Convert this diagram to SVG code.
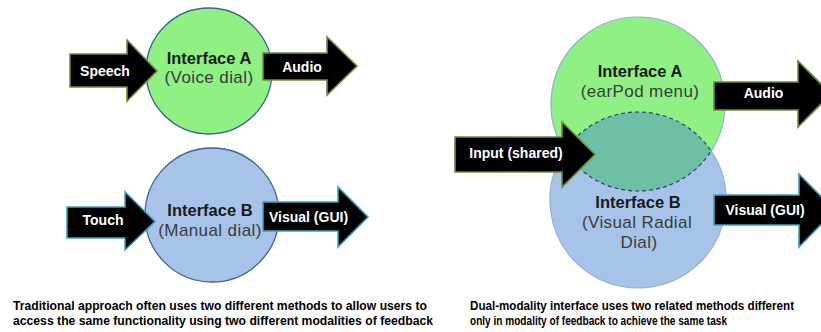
<svg xmlns="http://www.w3.org/2000/svg" width="821" height="332" viewBox="0 0 821 332">
<style>
.green{fill:#8FF183;}
.blue{fill:#A7C4E8;}
.edge{stroke:#3E6290;stroke-width:1.3;}
.arrow{fill:#000;stroke-width:1.6;stroke-linejoin:miter;}
.ag{stroke:#6F8C34;}
.ab{stroke:#3FA3BD;}
.al{font-family:"Liberation Sans",Arial,sans-serif;font-weight:bold;font-size:14px;fill:#fff;text-anchor:middle;}
.t1{font-family:"Liberation Sans",Arial,sans-serif;font-weight:bold;font-size:16.5px;fill:#1a1a1a;text-anchor:middle;}
.t2{font-family:"Liberation Sans",Arial,sans-serif;font-size:17px;letter-spacing:0.4px;fill:#3a3a3a;text-anchor:middle;}
.cap{font-family:"Liberation Sans",Arial,sans-serif;font-weight:bold;font-size:12px;fill:#000;}
</style>

<g id="node-left-a">
<circle class="green edge" cx="209" cy="71" r="63"/>
</g>
<g id="node-left-b">
<circle class="blue edge" cx="212" cy="215" r="67"/>
</g>

<g id="node-right-b">
<circle class="blue" cx="638" cy="200" r="88"/>
<path d="M564.85,151.09 A88,88 0 1 0 711.15,151.09" fill="none" stroke="#8EAFD8" stroke-width="1.2"/>
</g>
<g id="node-right-a">
<circle class="green" cx="638" cy="104" r="87"/>
<path d="M564.85,151.09 A87,87 0 1 1 711.15,151.09" fill="none" stroke="#8EAFD0" stroke-width="1.2"/>
</g>
<g id="node-overlap">
<path d="M564.85,151.09 A87,87 0 0 0 711.15,151.09 A88,88 0 0 0 564.85,151.09 Z" fill="#6DBFA6" stroke="#243F72" stroke-width="1.2" stroke-dasharray="4,3"/>
</g>

<g id="connectors">
<g id="arrow-speech">
<path class="arrow ag" d="M70,54 L127,54 L127,40 L157,71 L127,101 L127,87 L70,87 Z"/>
<text class="al" x="105" y="76">Speech</text>
</g>
<g id="arrow-audio-left">
<path class="arrow ag" d="M263,53 L327,53 L327,37 L357,66 L327,95 L327,80 L263,80 Z"/>
<text class="al" x="302" y="72">Audio</text>
</g>
<g id="arrow-touch">
<path class="arrow ab" d="M67,207 L125,207 L125,192 L155,221.5 L125,250 L125,238 L67,238 Z"/>
<text class="al" x="103" y="225">Touch</text>
</g>
<g id="arrow-visual-left">
<path class="arrow ab" d="M263,202 L338,202 L338,187 L368,217 L338,247 L338,231 L263,231 Z"/>
<text class="al" x="308.5" y="222">Visual (GUI)</text>
</g>
<g id="arrow-input">
<path class="arrow ag" d="M455,137 L562,137 L562,122 L595,154.5 L562,187 L562,172 L455,172 Z"/>
<text class="al" x="516" y="158">Input (shared)</text>
</g>
<g id="arrow-audio-right">
<path class="arrow ag" d="M714,82 L798,82 L798,61 L831,94 L798,127 L798,110 L714,110 Z"/>
<text class="al" x="763.5" y="98">Audio</text>
</g>
<g id="arrow-visual-right">
<path class="arrow ab" d="M714,195 L799,195 L799,174 L835,210.5 L799,247 L799,225 L714,225 Z"/>
<text class="al" x="765" y="215">Visual (GUI)</text>
</g>
</g>

<g id="labels">
<text class="t1" x="209" y="63.5">Interface A</text>
<text class="t2" x="209" y="83">(Voice dial)</text>
<text class="t1" x="210" y="216">Interface B</text>
<text class="t2" x="210" y="236">(Manual dial)</text>
<text class="t1" x="640" y="77">Interface A</text>
<text class="t2" x="640" y="97">(earPod menu)</text>
<text class="t1" x="638" y="208">Interface B</text>
<text class="t2" x="637" y="228">(Visual Radial</text>
<text class="t2" x="639" y="248">Dial)</text>
</g>

<g id="captions">
<text class="cap" x="13" y="310" textLength="414" lengthAdjust="spacingAndGlyphs">Traditional approach often uses two different methods to allow users to</text>
<text class="cap" x="13" y="324.5" textLength="420" lengthAdjust="spacingAndGlyphs">access the same functionality using two different modalities of feedback</text>
<text class="cap" x="470" y="310" textLength="324" lengthAdjust="spacingAndGlyphs">Dual-modality interface uses two related methods different</text>
<text class="cap" x="470" y="324.5" textLength="257" lengthAdjust="spacingAndGlyphs">only in modality of feedback to achieve the same task</text>
</g>
</svg>
